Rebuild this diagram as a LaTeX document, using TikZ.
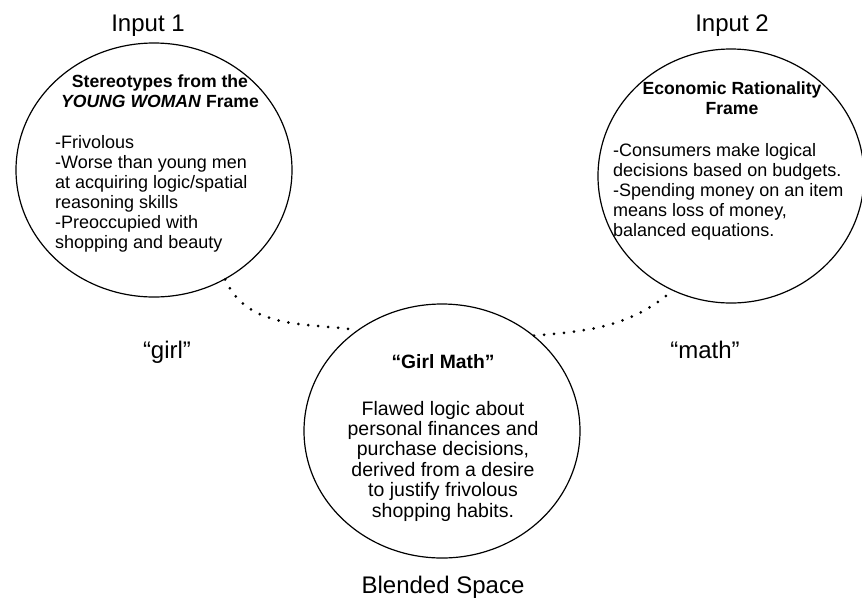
\documentclass[tikz,border=0pt]{standalone}
\usepackage{fontspec}
\setmainfont{Liberation Sans}
\usetikzlibrary{shapes.geometric}

\begin{document}
\begin{tikzpicture}[x=1pt,y=1pt,
  frame/.style={draw,ellipse,line width=1.2pt,minimum width=276pt,minimum height=254pt,inner sep=0pt},
  spacename/.style={font=\fontsize{24}{28}\selectfont,anchor=base,inner sep=0pt},
  heading/.style={font=\fontsize{17.6}{19.5}\selectfont\bfseries,align=center,inner sep=0pt},
  bodytext/.style={font=\fontsize{18}{20}\selectfont,align=left,anchor=west,inner sep=0pt},
  dotline/.style={line width=3pt,line cap=round,dash pattern=on 0pt off 10pt}]
\useasboundingbox (0,0) rectangle (862,-603);

% the three spaces
\path (154,-170) node[frame](young){} (731,-176) node[frame,minimum width=266pt](econ){} (442,-431) node[frame](blend){};

\path (148,-31) node[spacename](input1){Input 1} (732,-31) node[spacename](input2){Input 2} (167,-358) node[spacename](girl){“girl”} (705,-358) node[spacename](math){“math”} (443,-593) node[spacename](blended){Blended Space};

\path (160,-91) node[heading](youngtitle){Stereotypes from the\\\textit{YOUNG WOMAN} Frame}
(732,-98) node[heading](econtitle){Economic Rationality\\Frame}
(443,-362) node[heading,font=\fontsize{19.3}{21}\selectfont\bfseries](blendtitle){“Girl Math”};

\path (55,-194) node[bodytext](youngbody){-Frivolous\\-Worse than young men\\at acquiring logic/spatial\\reasoning skills\\-Preoccupied with\\shopping and beauty}
(613,-192) node[bodytext](econbody){-Consumers make logical\\decisions based on budgets.\\-Spending money on an item\\means loss of money,\\balanced equations.}
(443,-461) node[bodytext,anchor=center,align=center,font=\fontsize{19.5}{20.4}\selectfont](blendbody){Flawed logic about\\personal finances and\\purchase decisions,\\derived from a desire\\to justify frivolous\\shopping habits.};

% mappings into the blend
\draw[dotline] (young.-57) to[out=-65,in=172] (blend.130);
\draw[dotline] (blend.46) to[out=5,in=-140] (econ.-117);
\end{tikzpicture}
\end{document}
